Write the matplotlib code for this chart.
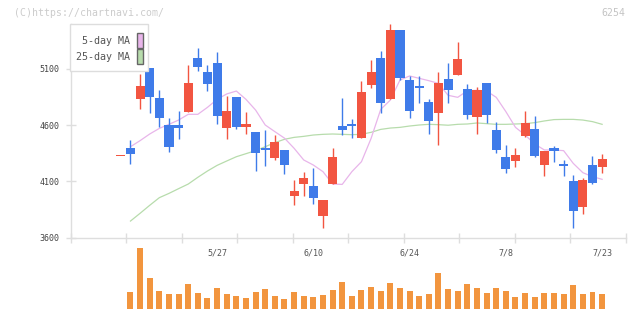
import numpy as np
import matplotlib
matplotlib.use('Agg')
import matplotlib.pyplot as plt
from matplotlib.patches import Rectangle

# ---------------- data ----------------
dates = ['5/13', '5/14', '5/15', '5/16', '5/17', '5/20', '5/21', '5/22', '5/23', '5/24',
         '5/27', '5/28', '5/29', '5/30', '5/31', '6/3', '6/4', '6/5', '6/6', '6/7',
         '6/10', '6/11', '6/12', '6/13', '6/14', '6/17', '6/18', '6/19', '6/20', '6/21',
         '6/24', '6/25', '6/26', '6/27', '6/28', '7/1', '7/2', '7/3', '7/4', '7/5',
         '7/8', '7/9', '7/10', '7/11', '7/12', '7/16', '7/17', '7/18', '7/19', '7/22',
         '7/23']
label_dates = ['5/27', '6/10', '6/24', '7/8', '7/23']

opens = [4325, 4400, 4836, 5112, 4839, 4602, 4602, 4718, 5198, 5076,
         5153, 4578, 4851, 4587, 4540, 4400, 4312, 4380, 3974, 4080,
         4060, 3796, 4080, 4593, 4611, 4489, 4961, 5198, 4836, 5447,
         5002, 4952, 4807, 4712, 5011, 5050, 4922, 4676, 4975, 4558,
         4318, 4285, 4507, 4566, 4249, 4398, 4255, 4104, 3876, 4246,
         4232]
highs = [4325, 4469, 5055, 5112, 4913, 4661, 4729, 5135, 5287, 5135,
         5251, 4860, 4851, 4718, 4540, 4558, 4513, 4380, 4113, 4184,
         4220, 3935, 4398, 4842, 4655, 4993, 5180, 5260, 5500, 5447,
         5038, 5038, 4833, 5073, 5153, 5340, 4967, 4940, 4975, 4629,
         4424, 4398, 4727, 4682, 4371, 4415, 4291, 4157, 4131, 4326,
         4344]
lows = [4325, 4258, 4747, 4706, 4587, 4365, 4475, 4718, 5085, 4907,
        4614, 4481, 4569, 4525, 4196, 4240, 4288, 4169, 3894, 3974,
        3903, 3689, 4080, 4513, 4484, 4489, 4934, 4712, 4836, 5002,
        4667, 4801, 4525, 4427, 4801, 5050, 4658, 4525, 4623, 4356,
        4178, 4232, 4498, 4320, 4151, 4276, 4151, 3689, 3814, 4080,
        4178]
closes = [4325, 4347, 4949, 4854, 4667, 4409, 4578, 4978, 5121, 4970,
          4685, 4729, 4584, 4611, 4356, 4377, 4451, 4249, 4015, 4131,
          3956, 3935, 4318, 4561, 4596, 4895, 5073, 4801, 5447, 5023,
          4729, 4934, 4641, 4975, 4916, 5189, 4694, 4913, 4694, 4383,
          4214, 4335, 4620, 4329, 4371, 4374, 4240, 3840, 4113, 4089,
          4300]
volumes = [0, 17000, 61300, 31000, 18000, 15000, 15000, 25000, 16000, 11000,
           21000, 15000, 13000, 11000, 17000, 20000, 13000, 10000, 17000, 13000,
           12000, 14000, 19000, 27000, 13000, 19000, 22000, 18000, 26000, 21000,
           18000, 13000, 15000, 36000, 20000, 18000, 25000, 21000, 16000, 21000,
           18000, 12000, 16000, 12000, 16000, 16000, 15000, 24000, 15000, 17000,
           15000]
ma5 = [np.nan, 4409, 4463, 4522, 4572, 4608, 4646, 4697, 4697, 4759,
       4830, 4878, 4904, 4830, 4735, 4602, 4543, 4485, 4395, 4291,
       4246, 4187, 4077, 4074, 4187, 4276, 4483, 4741, 4824, 5002,
       5038, 5017, 4996, 4972, 4866, 4848, 4907, 4910, 4904, 4848,
       4721, 4581, 4513, 4433, 4380, 4380, 4374, 4261, 4178, 4143,
       4119]
ma25 = [np.nan, 3748, 3817, 3888, 3956, 3994, 4036, 4077, 4137, 4193,
        4243, 4282, 4320, 4347, 4374, 4409, 4445, 4475, 4492, 4501,
        4513, 4519, 4522, 4519, 4516, 4519, 4537, 4563, 4575, 4581,
        4593, 4602, 4608, 4605, 4600, 4608, 4611, 4620, 4614, 4608,
        4608, 4611, 4614, 4623, 4638, 4650, 4652, 4652, 4646, 4632,
        4608]
y_ticks = [3600, 4100, 4600, 5100]
legend_labels = ['5-day MA', '25-day MA']
code_label = '6254'
watermark = '(C)https://chartnavi.com/'

# ---------------- style ----------------
RED = '#f25541'
BLUE = '#3f7be9'
ORANGE = '#f2953e'
PINK = '#e8b5ea'
GREEN = '#b7dcac'
AXIS = '#dedede'
MONO = 'DejaVu Sans Mono'

W, H = 640, 311
fig = plt.figure(figsize=(W / 100, H / 100), dpi=100)
fig.patch.set_facecolor('white')


def fbox(l, t, r, b):
    return [l / W, 1 - b / H, (r - l) / W, (b - t) / H]


x = np.arange(len(dates))
o = np.array(opens, float)
h = np.array(highs, float)
l = np.array(lows, float)
c = np.array(closes, float)
XL = (-5.21, 52.43)

ax = fig.add_axes(fbox(70.7, 24, 625.5, 237.7))
axv = fig.add_axes(fbox(70.7, 247.7, 625.5, 309))

# moving averages (under candles)
ax.plot(x, ma25, color=GREEN, lw=0.9, zorder=2)
ax.plot(x, ma5, color=PINK, lw=0.9, zorder=2)

# candles
cols = np.where(c >= o, RED, BLUE)
ax.vlines(x, l, h, colors=cols, lw=1.0, zorder=3)
bottom = np.minimum(o, c)
height = np.maximum(np.abs(c - o), 9)
ax.bar(x, height, bottom=bottom, width=0.955, color=cols, linewidth=0, zorder=4)

ax.set_xlim(*XL)
ax.set_ylim(3600, 5500)
for s in ['top', 'right']:
    ax.spines[s].set_visible(False)
for s in ['left', 'bottom']:
    ax.spines[s].set_color(AXIS)
    ax.spines[s].set_linewidth(1.0)

ax.set_yticks(y_ticks)
ax.set_yticklabels([str(v) for v in y_ticks])
ax.tick_params(axis='y', direction='inout', length=6.5, width=1.0, color=AXIS,
               pad=5, labelsize=6, labelcolor='#444444')
for t in ax.get_yticklabels():
    t.set_family(MONO)

ax.set_xticks(np.linspace(XL[0], XL[1], 11))
ax.tick_params(axis='x', which='major', direction='inout', length=7.2, width=1.0,
               color=AXIS, labelbottom=False)
lab_pos = [dates.index(d) for d in label_dates]
ax.set_xticks(lab_pos, minor=True)
ax.set_xticklabels(label_dates, minor=True)
ax.tick_params(axis='x', which='minor', length=0, pad=7.5, labelsize=6,
               labelcolor='#555555')
for t in ax.get_xticklabels(minor=True):
    t.set_family(MONO)

# volume
axv.bar(x, volumes, width=0.62, color=ORANGE, linewidth=0)
axv.set_xlim(*XL)
axv.set_ylim(0, max(volumes))
axv.axis('off')

# legend box
fig.add_artist(Rectangle((70 / W, 1 - 71 / H), 78 / W, 47 / H, transform=fig.transFigure,
                         facecolor='white', edgecolor='#dddddd', lw=1.0, zorder=10))
for k, (lab, col) in enumerate(zip(legend_labels, [PINK, GREEN])):
    yc = 40.7 + 16 * k
    fig.text(129.5 / W, 1 - yc / H, lab, ha='right', va='center', fontsize=7.2,
             family=MONO, color='#555555', zorder=11)
    fig.add_artist(Rectangle((136.5 / W, 1 - (yc + 7.5) / H), 6.5 / W, 15 / H,
                             transform=fig.transFigure, facecolor=col,
                             edgecolor='#666666', lw=1.0, zorder=11))

fig.text(14 / W, 1 - 12.5 / H, watermark, ha='left', va='center', fontsize=7.1,
         family=MONO, color='#cccccc')
fig.text(625 / W, 1 - 12.5 / H, code_label, ha='right', va='center', fontsize=7.1,
         family=MONO, color='#c4c4c4')

fig.savefig('out.png', dpi=100, facecolor='white')
